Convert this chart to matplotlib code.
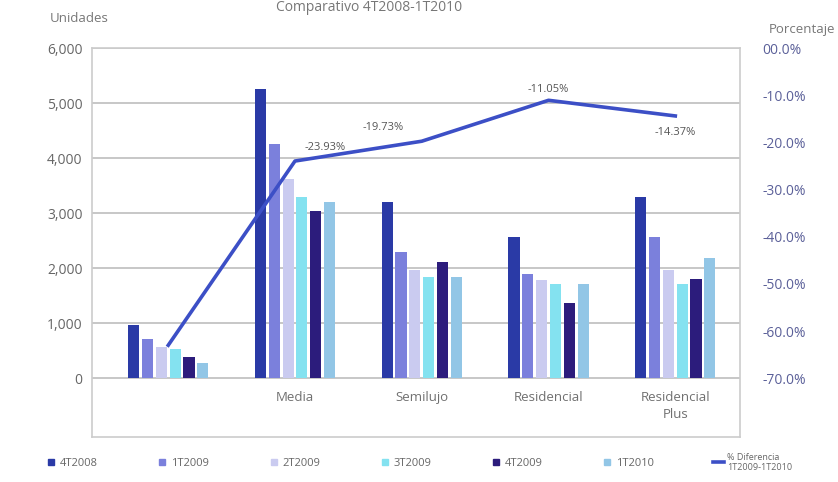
import numpy as np
import matplotlib
matplotlib.use('Agg')
import matplotlib.pyplot as plt
from matplotlib.lines import Line2D

plt.rcParams['font.family'] = ['Open Sans', 'DejaVu Sans']

categorias = ['', 'Media', 'Semilujo', 'Residencial', 'Residencial\nPlus']
periodos = ['4T2008', '1T2009', '2T2009', '3T2009', '4T2009', '1T2010']
unidades = {
    '4T2008': [960, 5250, 3200, 2560, 3300],
    '1T2009': [720, 4250, 2290, 1890, 2560],
    '2T2009': [560, 3620, 1960, 1780, 1960],
    '3T2009': [540, 3300, 1840, 1710, 1710],
    '4T2009': [380, 3050, 2110, 1360, 1810],
    '1T2010': [270, 3200, 1840, 1720, 2180],
}
diferencia = [-63.0, -23.93, -19.73, -11.05, -14.37]
etiquetas = ['', '-23.93%', '-19.73%', '-11.05%', '-14.37%']

colores = ['#2a3aa6', '#7b80dc', '#cacbf0', '#84e2f0', '#2c1c7c', '#92c6e6']
color_linea = '#3c4fc6'

fig = plt.figure(figsize=(8.38, 4.82), dpi=100)
ax = fig.add_axes([0.11, 0.093, 0.773, 0.807])

x = np.arange(len(categorias))
paso = 0.109
for i, p in enumerate(periodos):
    ax.bar(x + (i - 2.5) * paso, unidades[p], width=0.088, color=colores[i], zorder=2)

ax.set_xlim(-0.6, 4.51)
ax.set_ylim(-1070, 6000)
ax.set_yticks(range(0, 6001, 1000))
ax.set_yticklabels(['{:,}'.format(v) for v in range(0, 6001, 1000)])
ax.set_xticks([])
ax.grid(axis='y', color='#bdbdbd', linewidth=1.2, zorder=0)
ax.tick_params(axis='y', length=0, labelsize=10, labelcolor='#666666', pad=7)
for s in ax.spines.values():
    s.set_color('#cccccc')
    s.set_linewidth(1.2)

for xi, c in zip(x, categorias):
    ax.text(xi, -230, c, ha='center', va='top', fontsize=9.5, color='#707070',
            linespacing=1.4)

ax2 = ax.twinx()
ax2.set_ylim(-82.5, 0)
ax2.set_yticks(range(-70, 1, 10))
ax2.set_yticklabels(['{:.1f}%'.format(v) if v != 0 else '00.0%' for v in range(-70, 1, 10)])
ax2.tick_params(axis='y', length=0, labelsize=10, labelcolor='#5b6099', pad=16)
for s in ax2.spines.values():
    s.set_visible(False)
ax2.plot(x, diferencia, color=color_linea, linewidth=2.6, zorder=3)

desplaz = [(0, 0), (22, 10), (-28, 10), (0, 8), (0, -12)]
for xi, yi, t, d in zip(x, diferencia, etiquetas, desplaz):
    if t:
        ax2.annotate(t, (xi, yi), xytext=d, textcoords='offset points',
                     ha='center', va='center', fontsize=8, color='#555555')

ax.set_zorder(ax2.get_zorder() - 1)
ax.patch.set_visible(True)
ax2.patch.set_visible(False)

fig.text(0.095, 0.962, 'Unidades', fontsize=9.5, color='#777777', ha='center', va='center')
fig.text(0.957, 0.938, 'Porcentaje', fontsize=9.5, color='#777777', ha='center', va='center')
fig.text(0.44, 0.985, 'Comparativo 4T2008-1T2010', fontsize=10, color='#777777',
         ha='center', va='center')

handles = [Line2D([], [], marker='s', linestyle='', color=c, markersize=4) for c in colores]
handles.append(Line2D([], [], color=color_linea, linewidth=2.6))
nombres = periodos + ['% Diferencia\n1T2009-1T2010']
leg = fig.legend(handles, nombres, loc='center', bbox_to_anchor=(0.5, 0.04), ncol=7,
                 frameon=False, fontsize=8, handlelength=1.0, handletextpad=0.3,
                 columnspacing=5.3)
for t in leg.get_texts():
    t.set_color('#666666')
leg.get_texts()[-1].set_fontsize(6.5)

fig.savefig('out.png', dpi=100)
